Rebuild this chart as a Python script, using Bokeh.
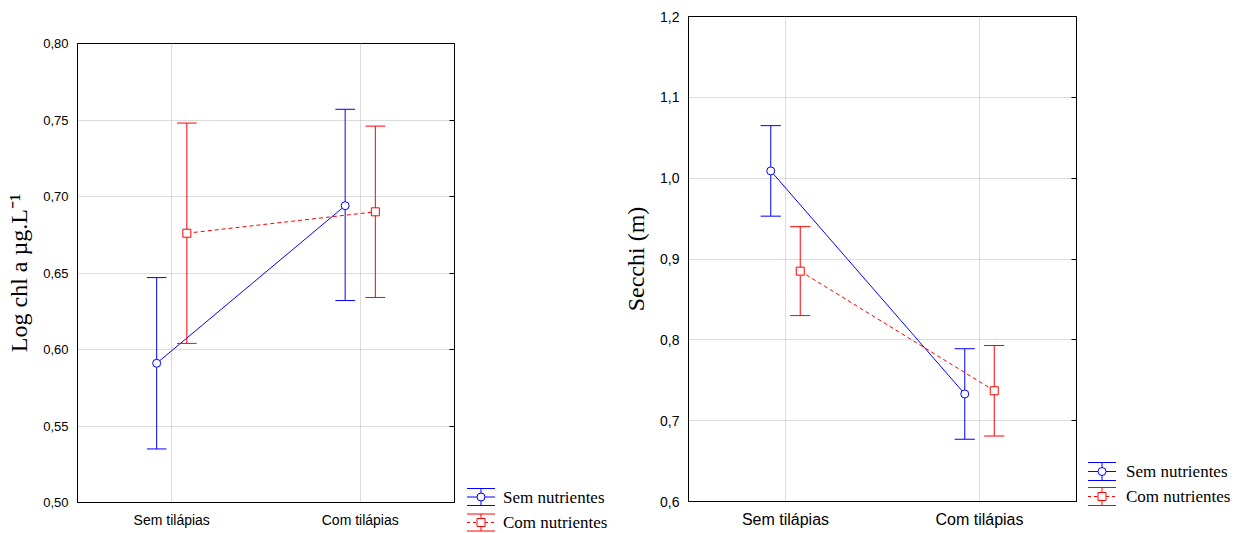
from bokeh.plotting import figure
from bokeh.models import (ColumnDataSource, FactorRange, Range1d, FixedTicker,
                          CustomJSTickFormatter, LinearAxis)
from bokeh.core.properties import value
from bokeh.transform import dodge
from bokeh.layouts import row, column
from bokeh.embed import file_html
from bokeh.resources import INLINE

# ---------------- data ----------------
categories = ["Sem tilápias", "Com tilápias"]
series_names = ["Sem nutrientes", "Com nutrientes"]

chl_sem_mean = [0.591, 0.694]
chl_sem_lo = [0.535, 0.632]
chl_sem_hi = [0.647, 0.757]
chl_com_mean = [0.676, 0.690]
chl_com_lo = [0.604, 0.634]
chl_com_hi = [0.748, 0.746]

sec_sem_mean = [1.009, 0.733]
sec_sem_lo = [0.953, 0.677]
sec_sem_hi = [1.065, 0.789]
sec_com_mean = [0.885, 0.737]
sec_com_lo = [0.830, 0.681]
sec_com_hi = [0.940, 0.793]

chl_yticks = [0.50, 0.55, 0.60, 0.65, 0.70, 0.75, 0.80]
sec_yticks = [0.6, 0.7, 0.8, 0.9, 1.0, 1.1, 1.2]

BLUE = "#0000ff"
RED = "#ff0000"
GRID = "#b8b8b8"
SERIF = "Liberation Serif"
SANS = "Liberation Sans"

STYLES = [(BLUE, "solid", "circle"), (RED, "4 3", "square")]


def make_panel(width, y_lo, y_hi, yticks, decimals, ylabel, ylabel_size, ytick_size, xtick_size,
               series, borders, off, cap):
    bl, br, bt, bb = borders
    p = figure(width=width, height=533, x_range=FactorRange(*categories),
               y_range=Range1d(y_lo, y_hi), output_backend="svg", toolbar_location=None,
               min_border_left=bl, min_border_right=br, min_border_top=bt, min_border_bottom=bb)
    p.outline_line_color = "black"
    p.outline_line_width = 1
    p.background_fill_color = "white"
    p.border_fill_color = "white"

    for ax in (p.xaxis[0], p.yaxis[0]):
        ax.axis_line_color = "black"
        ax.major_tick_line_color = None
        ax.minor_tick_line_color = None
        ax.major_tick_out = 0
        ax.major_tick_in = 0
        ax.major_label_text_font = SANS
        ax.major_label_text_color = "black"
        ax.major_label_standoff = 9

    p.yaxis.ticker = FixedTicker(ticks=yticks)
    p.yaxis.formatter = CustomJSTickFormatter(
        code=f"return tick.toFixed({decimals}).replace('.', ',');")
    p.yaxis.major_label_text_font_size = f"{ytick_size}px"
    p.xaxis.major_label_text_font_size = f"{xtick_size}px"
    p.yaxis.axis_label = ylabel
    p.yaxis.axis_label_text_font = SERIF
    p.yaxis.axis_label_text_font_style = "normal"
    p.yaxis.axis_label_text_color = "black"
    p.yaxis.axis_label_text_font_size = f"{ylabel_size}px"
    p.yaxis.axis_label_standoff = 8

    # inward ticks on the right border (no labels)
    rax = LinearAxis(ticker=FixedTicker(ticks=yticks), axis_line_color=None,
                     major_tick_in=5, major_tick_out=0, minor_tick_line_color=None,
                     major_tick_line_color="black",
                     formatter=CustomJSTickFormatter(code="return '';"),
                     major_label_standoff=0)
    p.add_layout(rax, "right")

    p.xgrid.grid_line_color = GRID
    p.xgrid.grid_line_dash = "1 1"
    p.ygrid.grid_line_color = GRID
    p.ygrid.grid_line_dash = "1 1"

    for (mean, lo, hi), (color, dash, marker), o in zip(series, STYLES, (-off, off)):
        src = ColumnDataSource(dict(cat=categories, mean=mean, lo=lo, hi=hi))
        xc = dodge("cat", o, range=p.x_range)
        xl = dodge("cat", o - cap, range=p.x_range)
        xr = dodge("cat", o + cap, range=p.x_range)
        p.segment(x0=xc, y0="lo", x1=xc, y1="hi", source=src, line_color=color, line_width=1)
        p.segment(x0=xl, y0="hi", x1=xr, y1="hi", source=src, line_color=color, line_width=1)
        p.segment(x0=xl, y0="lo", x1=xr, y1="lo", source=src, line_color=color, line_width=1)
        p.line(x=xc, y="mean", source=src, line_color=color, line_width=1, line_dash=dash)
        p.scatter(x=xc, y="mean", source=src, marker=marker, size=8,
                  fill_color="white", line_color=color, line_width=1)
    return p


def make_legend(width, gx0, gx1, tx, ycs, half):
    # legend panel in pixel-like coordinates (y grows downward)
    f = figure(width=width, height=533, output_backend="svg", toolbar_location=None,
               x_axis_type=None, y_axis_type=None,
               x_range=Range1d(0, width), y_range=Range1d(533, 0),
               min_border=0, min_border_left=0, min_border_right=0,
               min_border_top=0, min_border_bottom=0)
    f.outline_line_color = None
    f.xgrid.visible = False
    f.ygrid.visible = False
    f.background_fill_color = "white"
    f.border_fill_color = "white"
    gxc = (gx0 + gx1) / 2
    for name, (color, dash, marker), yc in zip(series_names, STYLES, ycs):
        f.segment(x0=[gx0, gx0], y0=[yc - half, yc + half], x1=[gx1, gx1],
                  y1=[yc - half, yc + half], line_color=color, line_width=1)
        f.segment(x0=[gxc], y0=[yc - half], x1=[gxc], y1=[yc + half],
                  line_color=color, line_width=1)
        f.segment(x0=[gx0], y0=[yc], x1=[gx1], y1=[yc], line_color=color,
                  line_width=1, line_dash="3 3" if dash != "solid" else "solid")
        f.scatter(x=[gxc], y=[yc], marker=marker, size=8, fill_color="white",
                  line_color=color, line_width=1)
        f.text(x=[tx], y=[yc], text=[name], text_font=value(SERIF),
               text_font_size="17px", text_baseline="middle", text_align="left",
               text_color="black")
    return f


p1 = make_panel(462, 0.50, 0.80, chl_yticks, 2, "Log chl a µg.L⁻¹", 24, 13, 14,
                [(chl_sem_mean, chl_sem_lo, chl_sem_hi),
                 (chl_com_mean, chl_com_lo, chl_com_hi)],
                (77, 8, 43, 31), 0.08, 0.052)
leg1 = make_legend(155, 4.5, 32.5, 40.5, [496.5, 522], 8.5)

p2 = make_panel(466, 0.6, 1.2, sec_yticks, 1, "Secchi (m)", 24, 14, 16,
                [(sec_sem_mean, sec_sem_lo, sec_sem_hi),
                 (sec_com_mean, sec_com_lo, sec_com_hi)],
                (71, 7, 16, 32), 0.076, 0.052)
leg2 = make_legend(151, 4.5, 32.5, 42.5, [471, 496], 9)

layout = row(column(p1), column(leg1), column(p2), column(leg2))
open("out.html", "w").write(file_html(layout, INLINE))
